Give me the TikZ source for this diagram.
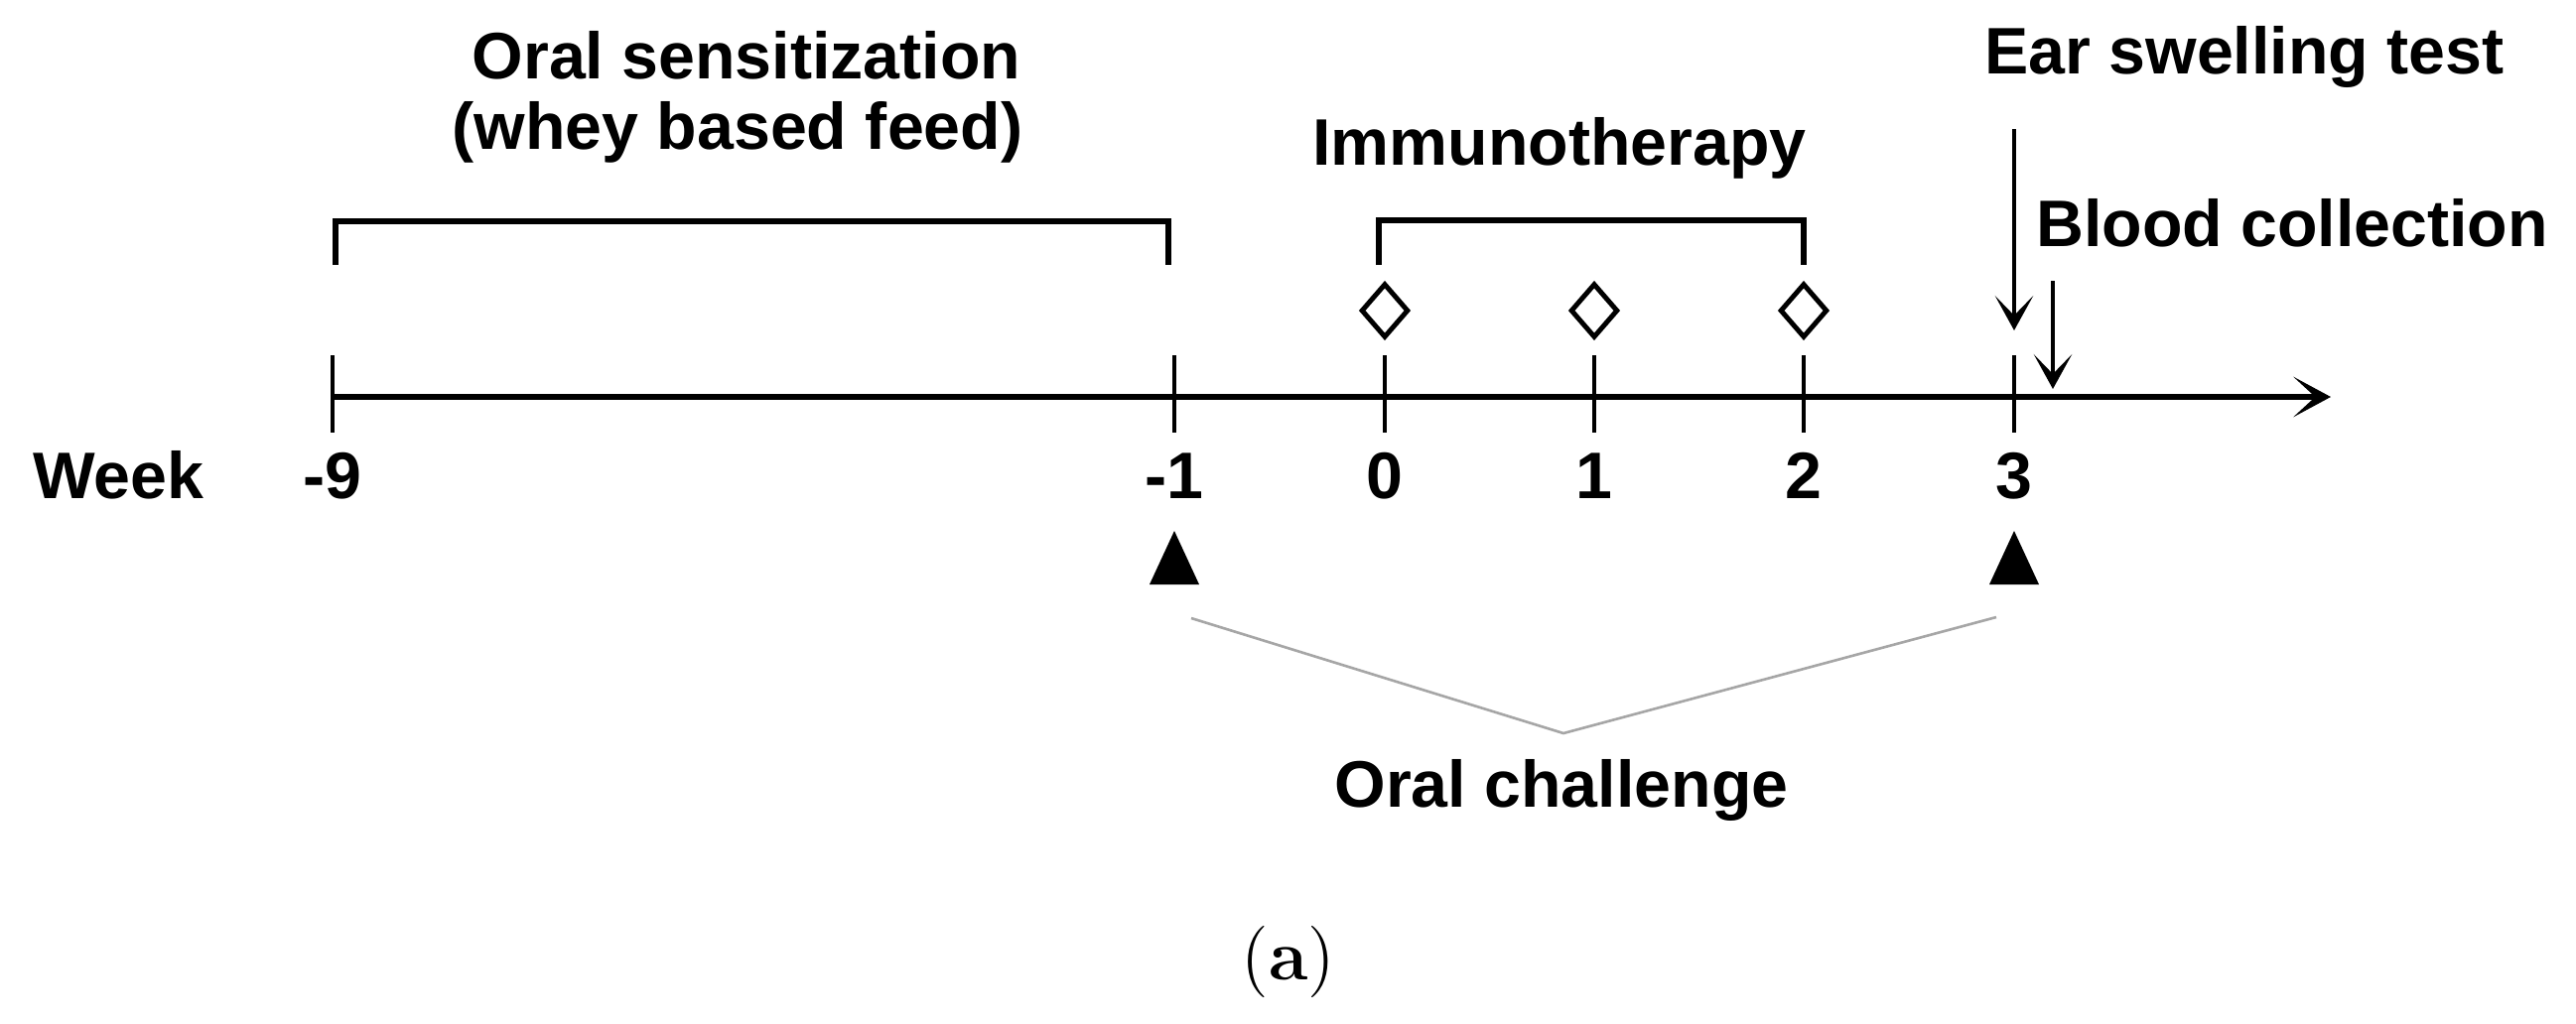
\documentclass[tikz,border=0pt]{standalone}
\usepackage{fontspec}
\setsansfont{Liberation Sans}
\usetikzlibrary{shapes.geometric, arrows.meta, positioning, calc}
\tikzstyle{txt} = [font=\sffamily\bfseries\fontsize{11.4}{13}\selectfont, inner sep=0pt, anchor=base]
\tikzstyle{tick} = [line width=0.85pt]
\tikzstyle{axis} = [line width=1.2pt, -{Stealth[length=6.5pt,width=7pt,inset=3.8pt]}]
\tikzstyle{bracket} = [line width=1pt]
\tikzstyle{dose} = [diamond, draw, line width=0.85pt, minimum width=8.2pt, minimum height=9.4pt, inner sep=0pt]
\tikzstyle{marker} = [line width=0.75pt, -{Stealth[length=6pt,width=6.6pt,inset=3.4pt]}]
\tikzstyle{guide} = [gray!70, line width=0.45pt]

\begin{document}
\begin{tikzpicture}[x=0.060424mm, y=-0.060424mm]
    \useasboundingbox (0,0) rectangle (2595,1032);

    \foreach \w/\x/\lab in {m9/335/-9, m1/1183/-1, 0/1395/0, 1/1606/1, 2/1817/2, 3/2029/3} {
        \coordinate (t\w) at (\x,400);
        \draw [tick] (\x,358) -- (\x,436);
        \node (w\w) [txt] at (\x,502) {\lab};
    }
    \node (week) [txt, anchor=base west] at (32,502) {Week};
    \coordinate (tend) at (2348,400);
    \draw [axis] (tm9) -- (tend);

    \node (sens) [txt] at (752,79) {Oral sensitization};
    \node (whey) [txt] at (743,150) {(whey based feed)};
    \draw [bracket] (338,267) |- (1177,223) -- (1177,267);

    \node (immuno) [txt] at (1571,166) {Immunotherapy};
    \draw [bracket] (1389,267) |- (1817,222) -- (1817,267);
    \foreach \w in {0,1,2}
        \node (d\w) [dose] at ($(t\w)+(0,-87)$) {};

    \node (ear) [txt] at (2261,74) {Ear swelling test};
    \coordinate (ear top) at (2029,130);
    \draw [marker] (ear top) -- ($(t3)+(0,-67)$);
    \node (blood) [txt, anchor=base west] at (2050,248) {Blood collection};
    \coordinate (blood top) at (2068,283);
    \draw [marker] (blood top) -- (2068,392);

    \foreach \w in {m1,3}
        \fill ($(t\w)+(0,135)$) -- ++(25,54) -- ++(-50,0) -- cycle;

    \node (oral) [txt] at (1573,813) {Oral challenge};
    \coordinate (vleft) at (1200,623);
    \coordinate (vmid) at (1575,739);
    \coordinate (vright) at (2011,622);
    \draw [guide] (vleft) -- (vmid) -- (vright);

    \node (cap) [font=\fontsize{12.4}{14}\selectfont, inner sep=0pt, anchor=base] at (1298,987) {(\textbf{a})};
  \end{tikzpicture}
\end{document}
